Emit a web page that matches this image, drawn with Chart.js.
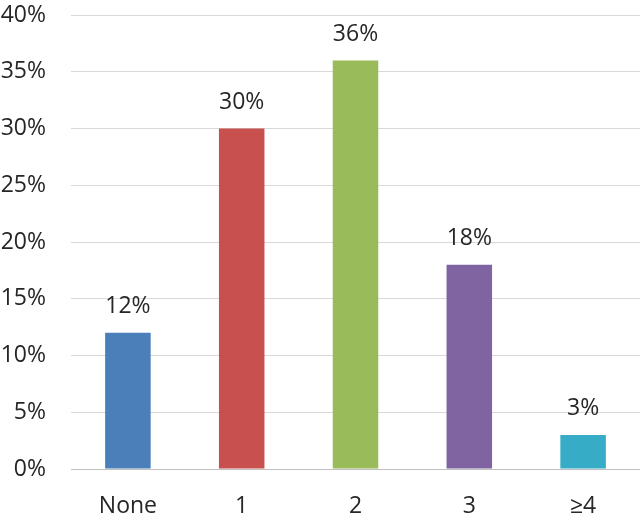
<!DOCTYPE html>
<html>
<head>
<meta charset="utf-8">
<script src="https://cdn.jsdelivr.net/npm/chart.js@4"></script>
<style>
  html, body { margin: 0; padding: 0; background: #fff; }
  #wrap { width: 640px; height: 521px; }
</style>
</head>
<body>
<div id="wrap"><canvas id="chart"></canvas></div>
<script>
// --- Data ---
const categories = ['None', '1', '2', '3', '≥4'];
const shares = [12, 30, 36, 18, 3];
const barColors = ['#4a7fba', '#c8504e', '#9abb59', '#8064a2', '#37acc6'];
const yTicks = [0, 5, 10, 15, 20, 25, 30, 35, 40];

const FONT = '"Open Sans", "Noto Sans", sans-serif';
const TEXT = '#262626';

// draw the percent above each bar
const valueLabels = {
    id: 'valueLabels',
    afterDatasetsDraw(chart) {
        const ctx = chart.ctx;
        const meta = chart.getDatasetMeta(0);
        ctx.save();
        ctx.font = `23px ${FONT}`;
        ctx.fillStyle = TEXT;
        ctx.textAlign = 'center';
        ctx.textBaseline = 'middle';
        meta.data.forEach((bar, i) => {
            ctx.fillText(`${shares[i]}%`, bar.x, bar.y - 26);
        });
        ctx.restore();
    }
};

new Chart(document.getElementById('chart'), {
    type: 'bar',
    data: {
        labels: categories,
        datasets: [{
            data: shares,
            backgroundColor: barColors,
            borderWidth: 0,
            barPercentage: 0.4,
            categoryPercentage: 1
        }]
    },
    options: {
        responsive: true,
        maintainAspectRatio: false,
        animation: false,
        layout: { padding: { top: 15, right: 0, left: 0, bottom: 0 } },
        plugins: { legend: { display: false }, tooltip: { enabled: false } },
        scales: {
            x: {
                grid: { display: false, drawTicks: false },
                border: { display: true, color: '#bfbfbf', width: 1 },
                ticks: { color: TEXT, font: { family: FONT, size: 23 }, padding: 24 },
                afterFit: s => { s.height = 52; s.paddingLeft = 0; s.paddingRight = 0; }
            },
            y: {
                min: 0,
                max: 40,
                afterBuildTicks: s => { s.ticks = yTicks.map(v => ({ value: v })); },
                grid: { color: '#d9d9d9', drawTicks: false },
                border: { display: false },
                ticks: {
                    color: TEXT,
                    font: { family: FONT, size: 23 },
                    padding: 25,
                    callback: v => `${v}%`
                },
                afterFit: s => { s.width = 71; s.paddingTop = 0; s.paddingBottom = 0; }
            }
        }
    },
    plugins: [valueLabels]
});
</script>
</body>
</html>
